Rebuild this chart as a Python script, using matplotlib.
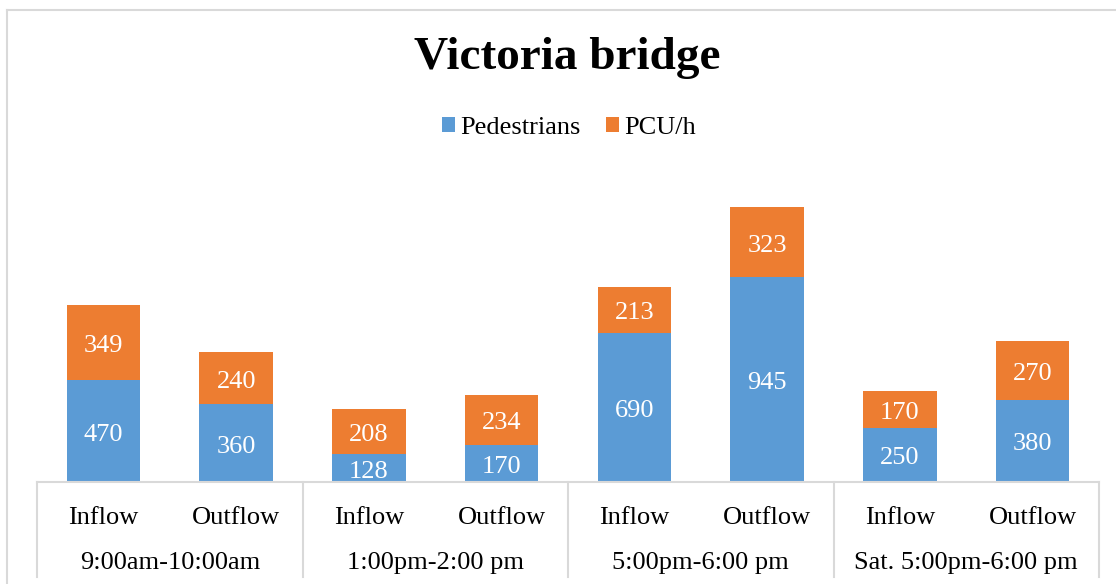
import matplotlib
matplotlib.use("Agg")
import matplotlib.pyplot as plt
from matplotlib.patches import Patch
from matplotlib.lines import Line2D

plt.rcParams['font.family'] = ['Liberation Serif', 'DejaVu Serif']

flows = ["Inflow", "Outflow", "Inflow", "Outflow", "Inflow", "Outflow", "Inflow", "Outflow"]
periods = ["9:00am-10:00am", "1:00pm-2:00 pm", "5:00pm-6:00 pm", "Sat. 5:00pm-6:00 pm"]
pedestrians = [470, 360, 128, 170, 690, 945, 250, 380]
pcu = [349, 240, 208, 234, 213, 323, 170, 270]

blue = "#5B9BD5"
orange = "#ED7D31"
grid = "#D9D9D9"

W, H = 1116, 584
fig = plt.figure(figsize=(W / 100, H / 100), dpi=100)

# outer chart frame (partially cropped)
fig.add_artist(Line2D([7 / W, 1.0], [1 - 10 / H, 1 - 10 / H], color=grid, lw=1.5, transform=fig.transFigure))
fig.add_artist(Line2D([7 / W, 7 / W], [0, 1 - 10 / H], color=grid, lw=1.5, transform=fig.transFigure))

left, right = 37 / W, 1099 / W
bottom = 1 - 482 / H
ymax = 1400
height = ymax * 0.2165 / H
ax = fig.add_axes([left, bottom, right - left, height])

x = list(range(len(flows)))
ax.bar(x, pedestrians, width=0.555, color=blue, zorder=2)
ax.bar(x, pcu, bottom=pedestrians, width=0.555, color=orange, zorder=2)

for i in x:
    ax.annotate(str(pedestrians[i]), (i, pedestrians[i] / 2), xytext=(0, -3.5),
                textcoords="offset pixels", ha="center", va="center",
                color="white", fontsize=19)
    ax.annotate(str(pcu[i]), (i, pedestrians[i] + pcu[i] / 2), xytext=(0, -3.5),
                textcoords="offset pixels", ha="center", va="center",
                color="white", fontsize=19)

ax.set_xlim(-0.5, len(flows) - 0.5)
ax.set_ylim(0, ymax)
ax.axis("off")

# category axis: baseline, group dividers, labels
trans = ax.get_xaxis_transform()
ax.add_line(Line2D([-0.5, len(flows) - 0.5], [0, 0], color=grid, lw=1.5, transform=trans, clip_on=False))
for g in range(len(periods) + 1):
    xv = g * 2 - 0.5
    fig.add_artist(Line2D([left + (right - left) * (xv + 0.5) / len(flows)] * 2,
                          [bottom, 1 - 577 / H], color=grid, lw=1.5, transform=fig.transFigure))

for i, f in enumerate(flows):
    fig.text(left + (right - left) * (i + 0.5) / len(flows), 1 - 518 / H, f,
             ha="center", va="center", fontsize=19, color="black")
for g, p in enumerate(periods):
    fig.text(left + (right - left) * (2 * g + 1) / len(flows), 1 - 563 / H, p,
             ha="center", va="center", fontsize=19, color="black")

fig.text(567 / W, 1 - 58 / H, "Victoria bridge", ha="center", va="center",
         fontsize=34, fontweight="bold", color="black")

handles = [Patch(facecolor=blue, label="Pedestrians"), Patch(facecolor=orange, label="PCU/h")]
fig.legend(handles=handles, loc="center", bbox_to_anchor=(569 / W, 1 - 128 / H), ncol=2,
           frameon=False, fontsize=19, handlelength=0.5, handleheight=0.5,
           handletextpad=0.2, columnspacing=0.95)

fig.savefig("out.png", dpi=100)
